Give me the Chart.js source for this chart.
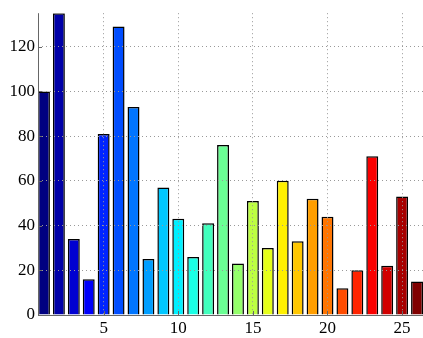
<!DOCTYPE html>
<html>
<head>
<meta charset="utf-8">
<script src="https://cdn.jsdelivr.net/npm/chart.js@4/dist/chart.umd.min.js"></script>
<style>
  html, body { margin: 0; padding: 0; background: #fff; }
  #wrap { width: 423px; height: 338px; }
</style>
</head>
<body>
<div id="wrap"><canvas id="barChart"></canvas></div>
<script>
// valores
const positions = [1, 2, 3, 4, 5, 6, 7, 8, 9, 10, 11, 12, 13, 14, 15, 16, 17, 18, 19, 20, 21, 22, 23, 24, 25, 26];
const values = [100, 135, 34, 16, 81, 129, 93, 25, 57, 43, 26, 41, 76, 23, 51, 30, 60, 33, 52, 44, 12, 20, 71, 22, 53, 15];
const xTicks = [5, 10, 15, 20, 25];
const yTicks = [0, 20, 40, 60, 80, 100, 120];

// mapa de cores "jet"
function jet(t) {
    const c = v => Math.round(255 * Math.max(0, Math.min(1, v)));
    return 'rgb(' + c(1.5 - Math.abs(4 * t - 3)) + ',' + c(1.5 - Math.abs(4 * t - 2)) + ',' + c(1.5 - Math.abs(4 * t - 1)) + ')';
}
const colors = positions.map((p, i) => jet(i / (positions.length - 1)));

const font = { family: "'Liberation Serif', 'Times New Roman', 'DejaVu Serif', serif", size: 17 };

// só mostra as linhas de grade nos ticks da lista
const gridColor = list => ctx => (ctx.tick && list.includes(ctx.tick.value) && ctx.tick.value !== 0) ? '#999' : 'rgba(0,0,0,0)';

// eixos esquerdo e inferior com marcas para dentro (estilo matlab)
const axisLines = {
    id: 'axisLines',
    afterDraw(chart) {
        const { ctx, chartArea: a, scales } = chart;
        ctx.save();
        ctx.strokeStyle = '#666';
        ctx.lineWidth = 1;
        ctx.beginPath();
        ctx.moveTo(a.left + 0.5, a.top);
        ctx.lineTo(a.left + 0.5, a.bottom + 0.5);
        ctx.lineTo(a.right, a.bottom + 0.5);
        xTicks.forEach(v => {
            const px = Math.round(scales.x.getPixelForValue(v)) + 0.5;
            ctx.moveTo(px, a.bottom);
            ctx.lineTo(px, a.bottom - 4);
        });
        yTicks.forEach(v => {
            const py = Math.round(scales.y.getPixelForValue(v)) + 0.5;
            ctx.moveTo(a.left, py);
            ctx.lineTo(a.left + 4, py);
        });
        ctx.stroke();
        ctx.restore();
    }
};

new Chart(document.getElementById('barChart'), {
    type: 'bar',
    data: {
        datasets: [{
            data: positions.map((p, i) => ({ x: p, y: values[i] })),
            backgroundColor: colors,
            borderColor: '#000',
            borderWidth: 1.5,
            barPercentage: 0.8,
            categoryPercentage: 1
        }]
    },
    options: {
        responsive: true,
        maintainAspectRatio: false,
        animation: false,
        layout: { padding: { top: 13, right: 0, left: 0, bottom: 0 } },
        plugins: { legend: { display: false }, tooltip: { enabled: false } },
        scales: {
            x: {
                type: 'linear',
                offset: false,
                min: 0.6,
                max: 26.4,
                afterBuildTicks: axis => { axis.ticks = xTicks.map(v => ({ value: v })); },
                afterFit: axis => { axis.height = 23; },
                ticks: { color: '#000', font: font, padding: 3, maxRotation: 0 },
                grid: { color: gridColor(xTicks), z: 1, drawTicks: false, offset: false },
                border: { display: false, dash: [1, 3] }
            },
            y: {
                min: 0,
                max: 135,
                afterFit: axis => { axis.width = 38; },
                ticks: {
                    color: '#000', font: font, padding: 3, stepSize: 20,
                    callback: v => yTicks.includes(v) ? v : ''
                },
                grid: { color: gridColor(yTicks), z: 1, drawTicks: false },
                border: { display: false, dash: [1, 3] }
            }
        }
    },
    plugins: [axisLines]
});
</script>
</body>
</html>
